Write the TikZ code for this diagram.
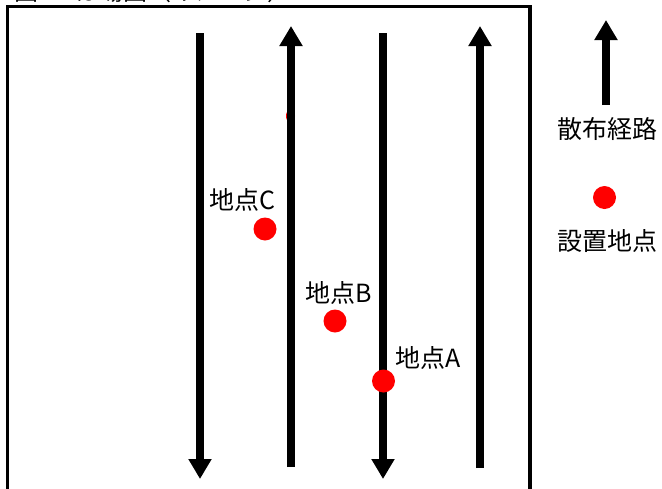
\documentclass[tikz,border=0pt]{standalone}
\usepackage{fontspec}
\setmainfont{Noto Sans CJK JP}
\usetikzlibrary{arrows.meta}
\begin{document}
\begin{tikzpicture}[x=1pt,y=-1pt,
  route/.style={line width=8pt,-{Triangle[width=22pt,length=20pt]}},
  spot/.style={circle,fill=red,inner sep=0pt,minimum size=23pt},
  lbl/.style={inner sep=0pt,font=\fontsize{25}{28}\selectfont},
  frame/.style={line width=3.5pt}]
\useasboundingbox (0,0) rectangle (662,488);
% title (cut off at top)
\node[lbl,anchor=base west,font=\fontsize{24}{26}\selectfont] (title) at (14,0.5) {図1　ほ場図（イメージ）};
% frame
\coordinate (fbl) at (7.5,495);
\coordinate (ftl) at (7.5,6.5);
\coordinate (ftr) at (530,6.5);
\coordinate (fbr) at (530,495);
\draw[frame] (fbl) -- (ftl) -- (ftr) -- (fbr);
% partially hidden spot
\fill[red] (290.5,116) ellipse (4.5pt and 6.5pt);
% routes
\coordinate (r1s) at (200,33);  \coordinate (r1e) at (200,479);
\coordinate (r2s) at (291,467); \coordinate (r2e) at (291,26);
\coordinate (r3s) at (383,33);  \coordinate (r3e) at (383,479);
\coordinate (r4s) at (480,468); \coordinate (r4e) at (480,26);
\draw[route] (r1s) -- (r1e);
\draw[route] (r2s) -- (r2e);
\draw[route] (r3s) -- (r3e);
\draw[route] (r4s) -- (r4e);
% spots
\node[spot] (C) at (265,229) {};
\node[spot] (B) at (335,321) {};
\node[spot] (A) at (383.5,381) {};
\node[lbl,anchor=west] (Cl) at (209,200) {地点C};
\node[lbl,anchor=west] (Bl) at (305,293) {地点B};
\node[lbl,anchor=west] (Al) at (395,358) {地点A};
% legend
\coordinate (lgs) at (606,105); \coordinate (lge) at (606,20);
\draw[route] (lgs) -- (lge);
\node[lbl] (lg1) at (607,129) {散布経路};
\node[spot] (lgdot) at (604.5,197.5) {};
\node[lbl] (lg2) at (607,241) {設置地点};
\end{tikzpicture}
\end{document}
